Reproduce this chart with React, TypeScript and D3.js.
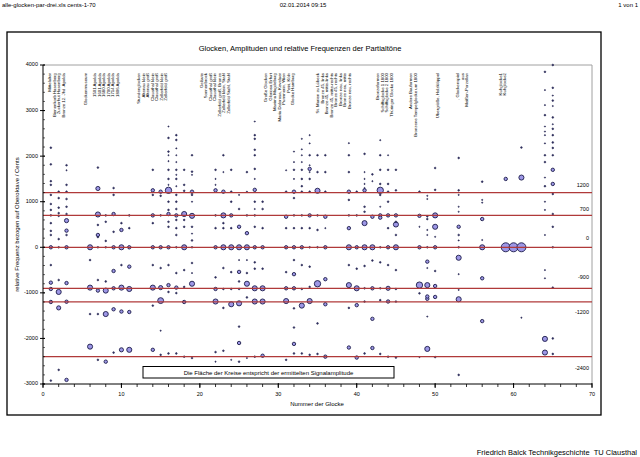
import React from "react";
import * as d3 from "d3";

// ---------- DATA ----------
// [Nummer der Glocke, relative Frequenz (Cents), Amplitude]
const hum: [number, number, number][] = [
  [1, -2925, 1], [2, -2690, 1], [3, -2910, 4], [6, -2180, 9], [7, -2470, 1], [8, -2510, 4],
  [9, -2310, 1], [10, -2250, 6], [11, -2250, 9], [14, -2250, 4], [15, -2360, 1], [16, -2330, 1],
  [17, -2330, 1], [18, -2400, 1], [19, -2430, 1], [22, -2300, 1], [22, -2510, 0.5], [23, -2270, 1],
  [24, -2470, 0.5], [25, -2100, 4], [25, -2510, 1], [26, -2430, 0.5], [27, -2400, 1], [28, -2380, 4],
  [31, -2470, 1], [32, -2120, 4], [32, -2330, 1], [33, -2330, 1], [34, -2360, 1], [35, -2340, 1],
  [36, -2400, 4], [39, -2200, 4], [40, -2420, 4], [41, -2330, 1], [42, -2210, 4], [43, -2340, 1],
  [44, -2400, 1], [45, -2420, 1], [48, -2410, 0.5], [49, -2230, 9], [50, -2410, 1], [53, -2800, 1],
  [64, -2010, 9], [64, -2310, 9], [65, -2000, 1], [65, -2340, 1],
];
const prime: [number, number, number][] = [
  [1, -1200, 4], [2, -1330, 6], [3, -1195, 4], [6, -1465, 1], [7, -1465, 1], [8, -1465, 9],
  [9, -1360, 4], [10, -1410, 4], [11, -1420, 4], [14, -1280, 1], [15, -1170, 12], [15, -1830, 0.5],
  [18, -1200, 4], [22, -1190, 9], [23, -1330, 1], [24, -1250, 9], [25, -1230, 9], [25, -1740, 1],
  [27, -1190, 9], [28, -1190, 9], [31, -1180, 9], [32, -1340, 1], [32, -1760, 1], [33, -1280, 9],
  [34, -1180, 9], [35, -1670, 1], [36, -1250, 4], [39, -1330, 1], [40, -1270, 4], [41, -1190, 1],
  [42, -1570, 4], [43, -1160, 1], [44, -1190, 4], [45, -1190, 1], [48, -1010, 1], [49, -1130, 4],
  [49, -1520, 0.5], [50, -1090, 4], [53, -1140, 9], [56, -1620, 4], [61, -1545, 0.5],
];
const tierce: [number, number, number][] = [
  [1, -776, 4], [1, -915, 4], [2, -718, 1], [2, -980, 9], [3, -785, 4], [6, -885, 9], [7, -718, 1],
  [7, -950, 4], [8, -750, 1], [8, -950, 9], [9, -900, 4], [10, -885, 9], [11, -915, 9], [14, -885, 9],
  [15, -885, 6], [16, -830, 4], [16, -980, 1], [17, -885, 4], [17, -1005, 1], [18, -870, 1],
  [19, -800, 9], [22, -660, 1], [22, -915, 4], [23, -915, 1], [24, -915, 1], [25, -750, 1],
  [25, -915, 1], [26, -800, 9], [26, -1100, 1], [27, -900, 9], [28, -900, 9], [31, -900, 4],
  [32, -900, 4], [33, -915, 1], [34, -870, 1], [35, -800, 14], [36, -700, 4], [39, -830, 9],
  [40, -900, 9], [41, -900, 1], [42, -900, 4], [43, -900, 1], [44, -900, 6], [45, -915, 1],
  [48, -830, 14], [49, -830, 9], [49, -1080, 4], [50, -850, 4], [53, -935, 0.5], [56, -680, 4],
  [64, -680, 0.5], [65, -885, 1],
];
const quint: [number, number, number][] = [
  [1, -390, 1], [6, -280, 1], [9, -520, 4], [10, -390, 1], [11, -425, 4], [14, -390, 1],
  [15, -455, 1], [16, -390, 1], [17, -565, 1], [18, -500, 1], [19, -345, 1], [19, -565, 0.5],
  [23, -455, 1], [24, -545, 1], [25, -280, 0.5], [25, -540, 4], [26, -280, 0.5], [26, -565, 1],
  [27, -330, 1], [27, -470, 1], [28, -470, 1], [31, -545, 1], [32, -280, 1], [32, -590, 4],
  [33, -390, 1], [34, -425, 1], [39, -390, 1], [40, -470, 1], [41, -410, 1], [42, -290, 1],
  [43, -330, 1], [44, -390, 1], [45, -500, 1], [49, -315, 4], [49, -455, 0.5], [50, -520, 1],
  [53, -230, 9], [53, -590, 0.5], [64, -500, 0.5],
];
const nominal: [number, number, number][] = [
  [1, 0, 4], [2, 0, 1], [3, 0, 4], [6, 0, 9], [7, 0, 1], [8, 0, 1], [9, 0, 4], [10, 0, 9],
  [11, 0, 4], [14, 0, 4], [15, 0, 4], [16, 0, 4], [17, 0, 1], [18, 0, 9], [19, 0, 1], [22, 0, 4],
  [23, 0, 9], [24, 0, 9], [25, 0, 9], [26, 0, 9], [27, 0, 4], [28, 0, 4], [31, 0, 4], [32, 0, 4],
  [33, 0, 4], [34, 0, 1], [35, 0, 1], [36, 0, 4], [39, 0, 9], [40, 0, 4], [41, 0, 9], [42, 0, 9],
  [43, 0, 1], [44, 0, 4], [45, 0, 9], [48, 0, 4], [49, 0, 1], [50, 0, 4], [53, 0, 1], [56, 0, 9],
  [59, 0, 28], [60, 0, 28], [61, 0, 28], [65, 0, 1],
];
const upperPartials: [number, number, number][] = [
  [1, 950, 1], [1, 820, 1], [1, 700, 1], [1, 530, 1], [1, 360, 1], [1, 270, 1],
  [2, 1080, 1], [2, 870, 1], [2, 750, 1], [2, 690, 1], [2, 180, 1],
  [3, 1060, 1], [3, 890, 1], [3, 730, 1], [3, 585, 6], [3, 365, 4], [3, 270, 1],
  [7, 720, 9], [7, 490, 1], [7, 270, 4], [7, 225, 1], [8, 700, 1], [8, 560, 1], [8, 140, 1],
  [9, 730, 4], [9, 340, 1], [10, 530, 1], [10, 380, 4], [11, 700, 1], [11, 420, 1],
  [14, 700, 4], [14, 530, 1], [15, 700, 1], [16, 1000, 1], [16, 820, 1], [16, 730, 4], [16, 560, 1],
  [16, 450, 1], [17, 1000, 1], [17, 840, 1], [17, 700, 4], [17, 600, 1], [17, 420, 1], [17, 270, 1],
  [18, 730, 9], [18, 600, 1], [18, 450, 1], [19, 1000, 0.5], [19, 690, 9], [19, 450, 1],
  [19, 300, 0.5], [19, 150, 1], [22, 700, 1], [22, 420, 1], [23, 700, 9], [23, 530, 1],
  [23, 420, 1], [24, 1000, 1], [24, 700, 4], [24, 420, 1], [25, 840, 1], [25, 450, 4],
  [26, 700, 1], [26, 310, 4], [27, 1000, 1], [27, 840, 0.5], [27, 700, 1], [27, 450, 1],
  [28, 1000, 1], [28, 840, 1], [28, 420, 1], [31, 670, 4], [31, 420, 1], [32, 1080, 1],
  [32, 700, 1], [32, 420, 1], [33, 700, 1], [33, 420, 1], [34, 700, 4], [34, 420, 1],
  [35, 700, 1], [35, 380, 1], [36, 670, 4], [36, 420, 0.5], [39, 1040, 1], [39, 700, 1],
  [39, 420, 4], [40, 700, 1], [41, 890, 1], [41, 780, 1], [41, 530, 9], [42, 670, 4],
  [43, 890, 0.5], [43, 700, 4], [43, 650, 4], [44, 1000, 1], [44, 700, 4], [44, 420, 1],
  [45, 700, 4], [45, 560, 1], [45, 500, 9], [45, 270, 1], [48, 690, 4], [48, 450, 0.5],
  [49, 1060, 0.5], [49, 680, 1], [49, 620, 1], [49, 380, 0.5], [49, 270, 0.5], [50, 700, 9],
  [50, 450, 9], [50, 230, 0.5], [53, 890, 0.5], [53, 780, 0.5], [53, 450, 4], [53, 270, 1],
  [53, 150, 0.5], [56, 1040, 0.5], [56, 980, 0.5], [56, 620, 4], [56, 160, 0.5],
  [64, 1000, 0.5], [64, 820, 0.5], [64, 270, 0.5], [65, 730, 1], [65, 450, 1],
];
const highPartials: [number, number, number][] = [
  [1, 2185, 1], [1, 1820, 1], [1, 1450, 1], [1, 1370, 1], [1, 1150, 1], [2, 1220, 1],
  [3, 1800, 1], [3, 1690, 0.5], [3, 1370, 1], [3, 1220, 1], [7, 1750, 1], [7, 1290, 6],
  [9, 1300, 1], [9, 1150, 1], [14, 1700, 1], [14, 1250, 4], [14, 1150, 1], [15, 1220, 4],
  [15, 1130, 1], [16, 2650, 0.5], [16, 2400, 1], [16, 2100, 1], [16, 2020, 0.5], [16, 1890, 0.5],
  [16, 1700, 1], [16, 1500, 1], [16, 1370, 0.5], [16, 1250, 14], [17, 2460, 1], [17, 2355, 1],
  [17, 2170, 0.5], [17, 2020, 0.5], [17, 1870, 0.5], [17, 1700, 1], [17, 1590, 0.5], [17, 1500, 1],
  [17, 1340, 0.5], [17, 1150, 1], [18, 1700, 1], [18, 1370, 1], [18, 1240, 1], [19, 2020, 1],
  [19, 1660, 1], [19, 1590, 0.5], [19, 1220, 4], [19, 1150, 1], [22, 1700, 1], [22, 1500, 0.5],
  [22, 1370, 0.5], [22, 1250, 4], [23, 2020, 1], [23, 1650, 0.5], [23, 1220, 4], [24, 1700, 1],
  [24, 1220, 1], [25, 1150, 0.5], [26, 1650, 1], [26, 1220, 0.5], [27, 2760, 0.5], [27, 2460, 1],
  [27, 2380, 1], [27, 2140, 1], [27, 2020, 1], [27, 1720, 1], [27, 1500, 0.5], [27, 1260, 4],
  [31, 1690, 0.5], [31, 1220, 1], [32, 2100, 0.5], [32, 1870, 0.5], [32, 1700, 1], [32, 1500, 0.5],
  [32, 1220, 4], [33, 2380, 0.5], [33, 2150, 0.5], [33, 2020, 0.5], [33, 1870, 0.5], [33, 1700, 1],
  [33, 1500, 1], [33, 1340, 1], [33, 1220, 1], [34, 2460, 0.5], [34, 2280, 0.5], [34, 2020, 1],
  [34, 1800, 0.5], [34, 1720, 4], [34, 1650, 0.5], [34, 1500, 1], [34, 1220, 1], [35, 2020, 1],
  [35, 1650, 1], [35, 1240, 9], [36, 2020, 1], [36, 1650, 1], [36, 1220, 1], [39, 2285, 0.5],
  [39, 2020, 1], [39, 1650, 1], [39, 1220, 4], [40, 1220, 1], [41, 2050, 1], [41, 1650, 0.5],
  [41, 1500, 0.5], [41, 1390, 0.5], [41, 1300, 0.5], [41, 1250, 4], [42, 1600, 1], [42, 1450, 0.5],
  [43, 2350, 0.5], [43, 2020, 1], [43, 1700, 1], [43, 1390, 1], [43, 1250, 14], [43, 1150, 1],
  [44, 2020, 0.5], [44, 1700, 1], [44, 1390, 1], [44, 1220, 1], [45, 1700, 1], [45, 1250, 1],
  [48, 1220, 1], [49, 1130, 0.5], [50, 1740, 1], [50, 1260, 1], [53, 1960, 1], [53, 1250, 1],
  [53, 1150, 0.5], [56, 1440, 1], [59, 1500, 4], [61, 2190, 1], [61, 1530, 9],
  [64, 3850, 1], [64, 3450, 0.5], [64, 3120, 0.5], [64, 2900, 1], [64, 2650, 0.5], [64, 2540, 0.5],
  [64, 2460, 0.5], [64, 2280, 0.5], [64, 2020, 1], [64, 1870, 1], [64, 1530, 0.5], [64, 1340, 1],
  [65, 4000, 1], [65, 3500, 1], [65, 3330, 0.5], [65, 3220, 1], [65, 3100, 0.5], [65, 2850, 1],
  [65, 2700, 0.5], [65, 2600, 1], [65, 2460, 1], [65, 2300, 1], [65, 2180, 1], [65, 2020, 1],
  [65, 1700, 4], [65, 1390, 4], [65, 1170, 1],
];

const refLines = [1200, 700, 0, -900, -1200, -2400];
const refLabelDy = [-7, -6, -9, -11, 11, 12];

const xTicksMajor = [0, 10, 20, 30, 40, 50, 60, 70];
const yTicksMajor = [4000, 3000, 2000, 1000, 0, -1000, -2000, -3000];

// groups of bell names: [start position (Glocken-Nr.), lines]
const nameGroups: [number, string[]][] = [
  [0.89, ["Mittelalter", "Bienenkorb Hasenberg", "Zuckerhut Hasenberg", "Bronze 12. Jhd. Apolda"]],
  [5.48, ["Glockenmuseum", "", "1501 Apolda", "1601 Apolda", "1680 Apolda", "1700 Apolda", "1714 Apolda", "1806 Apolda"]],
  [12.24, ["Stundenglocken", "Altenau klein", "Altenau groß", "Clausthal klein", "Clausthal groß", "Zellerfeld klein", "Zellerfeld groß"]],
  [20.15, ["Geläute", "Sonnenbrock", "Clausthal groß", "Clausthal klein", "Zellerfeld groß, Bronze", "Zellerfeld klein, Stahl", "Zellerfeld Stahl, Stahl"]],
  [28.43, ["Große Glocken", "Gloriosa Erfurt", "Maxima Magdeburg", "Maria Dolorosa, Kevelaer", "Pummerin, Wien", "Petri, Köln", "Glocke Hamburg"]],
  [35.06, ["St. Marien zu Lübeck", "Bronze 45, links", "Bronze 45, mitte-links", "Bronze 45, mitte-rechts", "Bronze 45, rechts", "Bronze neu, links", "Bronze neu, mitte", "Bronze neu, rechts"]],
  [42.71, ["Bronzeformen", "Schiffsglocke 1 1800", "Schiffsglocke 2 1800", "Thüringer Glocke 1800"]],
  [46.92, ["Andere Bauformen", "Bronzene Tempelglocke um 1800"]],
  [50.36, ["Übergröße, Holzklöppel"]],
  [52.91, [", Glockenspiel", "aus", "Meißen-Porzellan"]],
  [58.27, ["Kuhglocke1", "Kuhglocke2"]],
];

const series = [hum, prime, tierce, quint, nominal, upperPartials, highPartials];

// ---------- LAYOUT ----------
const W = 640;
const H = 457;
const FONT = "'Liberation Sans', Arial, sans-serif";

export default function App() {
  const x = d3.scaleLinear().domain([0, 70]).range([43, 592]);
  const y = d3.scaleLinear().domain([-3000, 4000]).range([384, 65]);
  const r = d3.scaleSqrt().domain([0, 28]).range([0, 4.5]);

  const xMinor = d3.range(0, 71, 2);
  const yMinor = d3.range(-3000, 4001, 200);
  const allPts = series.flat().slice().sort((a, b) => b[2] - a[2]);

  const nameTop = 73;
  const lineStep = 4.5;

  return (
    <svg width={W} height={H} style={{ position: "absolute", left: 0, top: 0, background: "#fff" }} fontFamily={FONT}>
      <rect x={0} y={0} width={W} height={H} fill="#fff" />
      {/* header */}
      <text x={2} y={7} fontSize={6}>alle-glocken-par-drei.xls cents-1-70</text>
      <text x={303} y={7} fontSize={6} textAnchor="middle">02.01.2014 09:15</text>
      <text x={638} y={7} fontSize={6} textAnchor="end">1 von 1</text>

      {/* outer frame */}
      <rect x={7} y={32} width={594} height={383} fill="none" stroke="#000" strokeWidth={1.3} />
      <text x={300} y={51} fontSize={7.5} textAnchor="middle">Glocken, Amplituden und relative Frequenzen der Partialtöne</text>

      {/* plot border */}
      <line x1={x(0)} x2={x(70)} y1={y(4000)} y2={y(4000)} stroke="#a0a0a0" strokeWidth={1} />
      <line x1={x(70)} x2={x(70)} y1={y(4000)} y2={y(-3000)} stroke="#a0a0a0" strokeWidth={1} />

      {/* bell names */}
      {nameGroups.map(([start, lines], gi) =>
        lines.map((t, li) => (
          <text key={`n${gi}-${li}`} transform={`translate(${x(start) + li * lineStep + 1.5},${nameTop}) rotate(-90)`}
            fontSize={4.3} textAnchor="end">{t}</text>
        ))
      )}

      {/* bubbles */}
      {allPts.map((d, i) => (
        <circle key={`p${i}`} cx={x(d[0])} cy={y(d[1])} r={r(d[2])}
          fill={d[2] >= 4 ? "#9d97e6" : "#3a3a6a"} stroke="#1c1c4a" strokeWidth={d[2] >= 4 ? 0.9 : 0.6} />
      ))}

      {/* reference lines */}
      {refLines.map((v, i) => (
        <g key={`r${i}`}>
          <line x1={x(0)} x2={x(70)} y1={y(v)} y2={y(v)} stroke="#b03a3a" strokeWidth={1.2} />
          <text x={589} y={y(v) + refLabelDy[i]} fontSize={5.5} textAnchor="end" dominantBaseline="middle">{v}</text>
        </g>
      ))}

      {/* y axis */}
      <line x1={x(0)} x2={x(0)} y1={y(4000)} y2={y(-3000)} stroke="#000" strokeWidth={1} />
      {yMinor.map((v) => (
        <line key={`ym${v}`} x1={x(0)} x2={x(0) + 2} y1={y(v)} y2={y(v)} stroke="#000" strokeWidth={0.6} />
      ))}
      {yTicksMajor.map((v) => (
        <g key={`y${v}`}>
          <line x1={x(0) - 3} x2={x(0) + 2} y1={y(v)} y2={y(v)} stroke="#000" strokeWidth={1} />
          <text x={x(0) - 5} y={y(v)} fontSize={5.5} textAnchor="end" dominantBaseline="middle">{v}</text>
        </g>
      ))}
      <text transform={`translate(19,${(y(4000) + y(-3000)) / 2}) rotate(-90)`} fontSize={6} textAnchor="middle">
        relative Frequenz bezogen auf Oberoktave / Cents
      </text>

      {/* x axis */}
      <line x1={x(0)} x2={x(70)} y1={y(-3000)} y2={y(-3000)} stroke="#000" strokeWidth={1} />
      {xMinor.map((v) => (
        <line key={`xm${v}`} x1={x(v)} x2={x(v)} y1={y(-3000)} y2={y(-3000) + 3} stroke="#000" strokeWidth={0.8} />
      ))}
      {xTicksMajor.map((v) => (
        <g key={`x${v}`}>
          <line x1={x(v)} x2={x(v)} y1={y(-3000) - 1} y2={y(-3000) + 4} stroke="#000" strokeWidth={1} />
          <text x={x(v)} y={y(-3000) + 12} fontSize={5.5} textAnchor="middle">{v}</text>
        </g>
      ))}
      <text x={317} y={406} fontSize={6} textAnchor="middle">Nummer der Glocke</text>

      {/* note box */}
      <rect x={143} y={366.5} width={251} height={11.5} fill="#fff" stroke="#000" strokeWidth={1} />
      <text x={268.5} y={374.5} fontSize={6} textAnchor="middle">Die Fläche der Kreise entspricht der ermittelten Signalamplitude</text>

      {/* footer */}
      <text x={637} y={455} fontSize={7.5} textAnchor="end" style={{ whiteSpace: "pre" }}>Friedrich Balck Technikgeschichte  TU Clausthal</text>
    </svg>
  );
}
